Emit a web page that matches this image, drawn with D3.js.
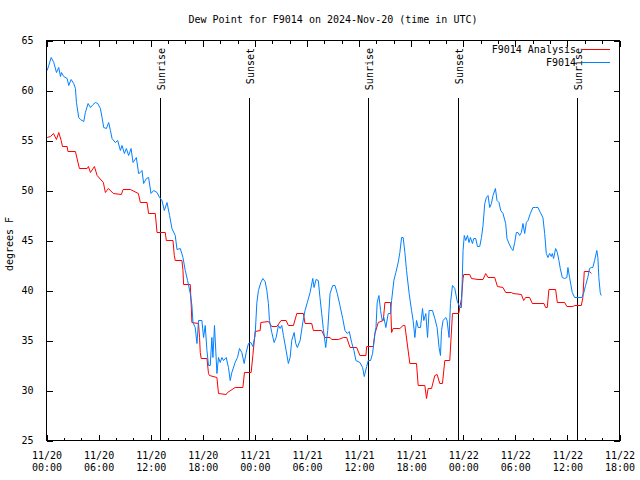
<!DOCTYPE html>
<html>
<head>
<meta charset="utf-8">
<script src="https://cdn.jsdelivr.net/npm/d3@7"></script>
<style>
  body { margin: 0; background: #fff; }
  svg { display: block; }
  text { font-family: "DejaVu Sans Mono", "Liberation Mono", monospace; fill: #000; }
</style>
</head>
<body>
<svg id="chart" width="640" height="480"></svg>
<script>
// ---------------- DATA (hours since 2024-11-20 00:00 UTC) ----------------
const chartTitle = "Dew Point for F9014 on 2024-Nov-20 (time in UTC)";
const yAxisLabel = "degrees F";
const seriesNames = ["F9014 Analysis", "F9014"];

const xTickHours = [0, 6, 12, 18, 24, 30, 36, 42, 48, 54, 60, 66];
const xTickLabels = ["11/20\n00:00", "11/20\n06:00", "11/20\n12:00", "11/20\n18:00",
                     "11/21\n00:00", "11/21\n06:00", "11/21\n12:00", "11/21\n18:00",
                     "11/22\n00:00", "11/22\n06:00", "11/22\n12:00", "11/22\n18:00"];
const yTickValues = [25, 30, 35, 40, 45, 50, 55, 60, 65];

const sunEventHours = [13.03, 23.38, 37.06, 47.41, 61.09];
const sunEventLabels = ["Sunrise", "Sunset", "Sunrise", "Sunset", "Sunrise"];

// Analysis (red)
const analysisHours = [0.08,0.46,0.80,1.15,1.41,1.69,1.84,2.38,2.47,3.33,3.79,4.68,4.83,5.06,5.52,5.83,6.55,6.78,7.13,7.70,8.62,8.82,9.66,10.58,10.81,11.58,11.76,12.53,12.73,13.68,13.80,14.57,14.72,14.83,15.60,15.72,15.79,16.56,16.75,17.51,17.63,17.71,17.82,18.48,18.66,18.78,19.63,19.81,20.70,20.85,21.73,22.62,22.80,23.57,23.77,24.03,24.61,24.69,25.56,25.95,26.53,27.02,27.60,27.86,28.44,28.83,29.59,29.78,30.55,30.74,31.70,32.08,32.66,32.85,33.62,34.19,34.58,34.96,35.73,36.10,36.79,36.88,37.64,37.83,38.21,38.79,38.98,39.63,39.75,39.93,40.70,41.08,41.28,41.85,42.62,42.81,43.58,43.77,43.96,44.35,44.73,44.99,45.30,45.61,45.88,46.45,46.76,47.49,47.60,47.80,47.98,48.06,48.75,48.95,49.71,50.28,50.59,50.86,51.63,51.94,52.58,52.89,53.55,53.73,54.70,54.96,55.19,55.65,55.96,57.30,57.49,57.68,57.87,58.64,58.84,59.68,59.94,60.63,60.83,61.60,61.78,61.94,62.55,62.75];
const analysisValues = [55.3,55.4,55.7,55.1,55.8,55.0,54.4,54.4,53.9,53.9,52.2,52.2,52.4,51.8,52.4,51.5,50.8,49.8,50.2,49.7,49.6,50.1,50.1,49.7,48.8,48.8,47.7,47.7,45.8,45.8,45.0,45.0,43.5,43.0,43.0,42.0,40.6,40.6,36.8,36.7,35.3,33.8,33.2,33.2,31.7,31.5,31.3,29.7,29.6,29.8,30.3,30.3,31.8,31.8,33.5,35.9,36.0,36.8,36.9,36.4,36.4,37.0,37.0,36.5,36.5,37.7,37.7,36.7,36.7,36.0,36.0,35.3,35.3,35.1,35.1,35.3,35.3,34.3,34.3,33.5,33.5,34.4,34.4,35.7,36.8,37.0,38.8,38.8,35.8,36.2,36.2,36.5,36.5,32.7,32.7,30.5,30.5,29.2,30.2,30.2,31.5,31.6,30.7,30.7,33.0,33.0,37.7,37.7,38.3,39.2,41.2,41.6,41.6,41.2,41.1,41.1,41.7,41.3,41.3,40.4,40.3,39.8,39.8,39.7,39.6,39.0,39.3,39.3,38.7,38.7,38.3,38.3,40.1,40.1,38.8,38.8,38.4,38.4,38.5,38.5,39.3,41.9,41.9,41.7];

// Station observations (blue)
const obsHours = [0.08,0.26,0.54,0.84,1.15,1.41,1.61,1.72,1.99,2.38,2.56,2.84,3.14,3.33,3.45,3.71,3.91,4.29,4.48,4.79,5.06,5.37,5.63,5.90,6.21,6.40,6.59,6.90,7.16,7.36,7.55,7.93,8.20,8.51,8.70,8.97,9.20,9.46,9.74,9.97,10.35,10.61,10.81,11.00,11.19,11.50,11.76,12.04,12.34,12.73,13.03,13.30,13.57,13.88,14.18,14.45,14.83,15.03,15.41,15.72,15.98,16.25,16.56,16.75,16.87,17.13,17.33,17.51,17.90,18.09,18.28,18.48,18.66,18.86,19.05,19.17,19.35,19.63,19.81,20.01,20.20,20.39,20.70,20.96,21.16,21.35,21.73,22.00,22.23,22.50,22.77,23.00,23.26,23.54,23.77,24.03,24.23,24.41,24.69,24.92,25.18,25.38,25.56,25.68,25.95,26.22,26.45,26.71,26.91,27.10,27.29,27.60,27.86,28.06,28.25,28.52,28.71,28.89,29.21,29.52,29.78,30.04,30.36,30.67,30.82,31.05,31.31,31.50,31.70,31.88,32.16,32.39,32.66,32.97,33.23,33.49,33.80,34.12,34.38,34.64,34.87,35.15,35.41,35.64,36.10,36.41,36.60,36.88,37.06,37.33,37.56,37.83,37.95,38.09,38.29,38.48,38.67,38.86,39.09,39.36,39.63,39.75,40.01,40.24,40.51,40.70,40.90,41.08,41.28,41.47,41.77,42.05,42.23,42.43,42.62,42.81,43.08,43.31,43.46,43.69,43.89,44.07,44.46,44.73,44.99,45.22,45.38,45.50,45.68,45.99,46.14,46.37,46.53,46.76,47.03,47.29,47.60,47.80,47.98,48.12,48.29,48.49,48.67,48.83,49.06,49.21,49.44,49.64,49.90,50.10,50.28,50.48,50.67,50.86,51.05,51.25,51.43,51.71,51.89,52.12,52.32,52.58,52.89,53.04,53.27,53.55,53.73,53.93,54.12,54.31,54.50,54.70,54.88,55.08,55.27,55.46,55.73,56.03,56.34,56.61,56.88,57.18,57.38,57.57,57.76,57.95,58.15,58.26,58.41,58.64,58.84,59.02,59.18,59.41,59.68,59.94,60.06,60.25,60.56,60.83,61.21,61.67,61.86,62.09,62.35,62.55,62.75,62.93,63.13,63.39,63.51,63.62,63.78,63.89];
const obsValues = [62.0,62.5,63.3,62.8,61.8,62.3,61.4,61.8,61.4,61.2,60.5,61.1,60.7,60.2,58.8,57.3,57.1,56.9,57.8,58.7,58.3,58.6,58.8,58.7,58.2,57.3,56.3,56.2,56.8,56.0,55.2,54.8,55.0,54.0,54.5,53.7,54.2,53.5,54.2,52.8,53.3,51.7,51.8,52.0,50.7,51.2,51.3,49.7,50.0,49.8,49.3,49.0,48.0,48.8,47.5,46.2,45.5,44.1,44.2,43.3,42.0,41.0,39.7,38.5,36.8,36.3,34.7,37.0,37.0,35.3,36.5,34.0,32.5,32.5,35.3,33.3,36.5,31.7,33.3,32.8,33.3,33.0,33.3,32.3,31.0,31.8,32.8,33.3,34.2,33.8,32.7,33.8,34.7,34.8,34.4,35.5,38.8,40.0,40.8,41.2,40.9,40.0,38.7,37.0,35.8,34.8,35.3,36.5,36.2,36.5,35.5,34.0,32.7,33.3,35.0,35.8,34.7,34.3,35.0,36.8,38.0,38.8,39.8,41.2,40.3,41.1,41.0,39.3,37.7,36.2,34.3,36.0,39.7,40.5,40.5,39.7,38.5,37.2,36.0,35.7,35.9,34.8,34.0,33.0,32.8,32.3,31.4,32.4,33.0,33.0,33.7,35.7,36.3,38.8,39.5,38.0,37.0,37.3,36.3,37.7,37.7,39.0,41.0,41.8,42.8,43.8,45.3,45.3,43.8,42.0,39.7,38.0,37.0,35.3,37.0,36.3,36.3,38.2,37.0,37.7,35.3,38.0,38.0,37.2,36.3,34.3,33.5,36.0,37.0,37.3,37.0,35.3,38.7,40.5,40.2,39.0,38.3,38.3,44.0,45.5,45.0,45.5,44.8,45.3,44.7,45.2,45.2,44.4,44.4,45.3,46.5,48.7,49.3,49.5,48.3,48.7,49.5,50.2,49.0,48.8,48.0,47.7,46.7,45.2,44.7,44.2,44.0,44.8,45.8,45.8,45.5,45.8,46.7,45.7,46.8,47.0,47.7,48.3,48.3,48.3,47.8,47.3,45.7,43.7,43.3,43.7,43.4,43.7,43.2,44.2,43.8,43.0,42.2,41.3,41.2,41.3,42.3,41.3,39.8,39.3,39.3,39.3,39.7,40.5,41.3,42.2,42.3,42.3,43.0,44.0,43.3,41.3,39.8,39.5];

// ---------------- CHART ----------------
const svg = d3.select("#chart");
const plotLeft = 46, plotRight = 620, plotTop = 40, plotBottom = 440;

const x = d3.scaleLinear().domain([0, 66]).range([plotLeft + 0.5, plotRight - 0.5]);
const y = d3.scaleLinear().domain([25, 65]).range([plotBottom + 0.5, plotTop + 0.5]);

// title
svg.append("text").attr("x", 333).attr("y", 23).attr("text-anchor", "middle")
  .attr("font-size", "10px").text(chartTitle);

// y label
svg.append("text").attr("transform", "translate(13,244) rotate(-90)")
  .attr("text-anchor", "middle").attr("font-size", "10px").text(yAxisLabel);

// axes ticks
const minorHours = d3.range(0, 67, 2).filter(h => h % 6 !== 0);
const gx = svg.append("g").attr("transform", `translate(0,${plotBottom + 0.5})`)
  .call(d3.axisBottom(x).tickValues(xTickHours).tickSize(-6).tickPadding(10)
        .tickFormat((d, i) => xTickLabels[i]));
gx.select(".domain").remove();
gx.selectAll(".tick text").each(function(d, i) {
  const t = d3.select(this);
  const parts = xTickLabels[i].split("\n");
  t.text(null).attr("font-size", "10px").attr("font-family", "DejaVu Sans Mono").attr("dy", null);
  t.append("tspan").attr("x", 0).attr("y", 18.5).text(parts[0]);
  t.append("tspan").attr("x", 0).attr("y", 30.5).text(parts[1]);
});
svg.append("g").attr("transform", `translate(0,${plotBottom + 0.5})`)
  .call(d3.axisBottom(x).tickValues(minorHours).tickSize(-3).tickFormat(""))
  .select(".domain").remove();
// top mirror
svg.append("g").attr("transform", `translate(0,${plotTop + 0.5})`)
  .call(d3.axisTop(x).tickValues(xTickHours).tickSize(-6).tickFormat(""))
  .select(".domain").remove();
svg.append("g").attr("transform", `translate(0,${plotTop + 0.5})`)
  .call(d3.axisTop(x).tickValues(minorHours).tickSize(-3).tickFormat(""))
  .select(".domain").remove();

const gy = svg.append("g").attr("transform", `translate(${plotLeft + 0.5},0)`)
  .call(d3.axisLeft(y).tickValues(yTickValues).tickSize(-6).tickPadding(13));
gy.select(".domain").remove();
gy.selectAll(".tick text").attr("font-size", "10px").attr("font-family", "DejaVu Sans Mono");
svg.append("g").attr("transform", `translate(${plotRight - 0.5},0)`)
  .call(d3.axisRight(y).tickValues(yTickValues).tickSize(-6).tickFormat(""))
  .select(".domain").remove();

svg.selectAll(".tick line").attr("stroke", "#000").attr("shape-rendering", "crispEdges");

// frame
svg.append("rect").attr("x", plotLeft + 0.5).attr("y", plotTop + 0.5)
  .attr("width", plotRight - plotLeft - 1).attr("height", plotBottom - plotTop)
  .attr("fill", "none").attr("stroke", "#000").attr("shape-rendering", "crispEdges");

// sunrise/sunset markers
const sun = svg.append("g");
sunEventHours.forEach((h, i) => {
  const xp = Math.round(x(h)) + 0.5;
  sun.append("line").attr("x1", xp).attr("x2", xp).attr("y1", y(25)).attr("y2", 98)
    .attr("stroke", "#000").attr("shape-rendering", "crispEdges");
  sun.append("text").attr("transform", `translate(${xp + 4},48) rotate(-90)`)
    .attr("text-anchor", "end").attr("font-size", "10px").text(sunEventLabels[i]);
});

// series
const line = d3.line().x(d => x(d[0])).y(d => y(d[1]));
const analysis = analysisHours.map((h, i) => [h, analysisValues[i]]);
const obs = obsHours.map((h, i) => [h, obsValues[i]]);

svg.append("path").datum(analysis).attr("d", line)
  .attr("fill", "none").attr("stroke", "#ff0000").attr("stroke-width", 1);
svg.append("path").datum(obs).attr("d", line)
  .attr("fill", "none").attr("stroke", "#0080ff").attr("stroke-width", 1);

// legend
const legend = svg.append("g");
const legendColors = ["#ff0000", "#0080ff"];
seriesNames.forEach((name, i) => {
  const ly = 49.5 + i * 13;
  legend.append("text").attr("x", 576).attr("y", ly + 3.5).attr("text-anchor", "end")
    .attr("font-size", "10px").text(name);
  legend.append("line").attr("x1", 582).attr("x2", 610).attr("y1", ly).attr("y2", ly)
    .attr("stroke", legendColors[i]).attr("shape-rendering", "crispEdges");
});
</script>
</body>
</html>
